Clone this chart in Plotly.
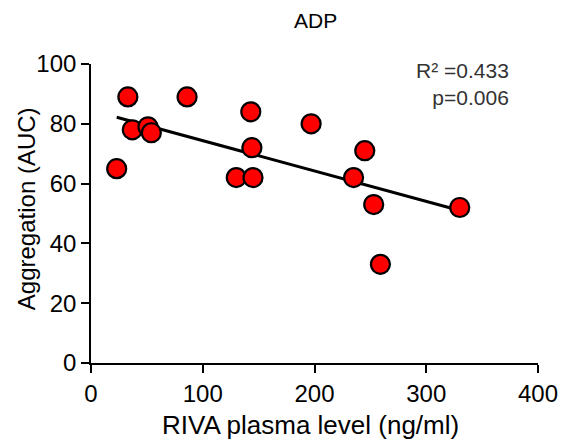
import plotly.graph_objects as go

# RIVA plasma level (ng/ml) vs aggregation (AUC), ADP
riva_level = [23, 33, 37, 51, 54, 86, 130, 143, 144, 145, 197, 235, 245, 253, 259, 330]
aggregation = [65, 89, 78, 79, 77, 89, 62, 84, 72, 62, 80, 62, 71, 53, 33, 52]

# regression line end points
fit_x = [23, 330]
fit_y = [82.2, 51.0]

x_ticks = [0, 100, 200, 300, 400]
y_ticks = [0, 20, 40, 60, 80, 100]

FONT = 'Liberation Sans, Arial'

fig = go.Figure()

fig.add_trace(go.Scatter(
    x=fit_x, y=fit_y, mode='lines',
    line=dict(color='black', width=3),
    hoverinfo='skip', cliponaxis=False,
))

fig.add_trace(go.Scatter(
    x=riva_level, y=aggregation, mode='markers',
    marker=dict(color='#ff0000', size=19, line=dict(color='black', width=2.2)),
    cliponaxis=False,
))

axis_common = dict(
    showgrid=False, zeroline=False, showline=True, automargin=False,
    linecolor='black', linewidth=1.6,
    ticks='outside', ticklen=8, tickwidth=1.6, tickcolor='black',
    tickfont=dict(family=FONT, size=24, color='black'),
)

fig.update_layout(
    width=561, height=443,
    paper_bgcolor='white', plot_bgcolor='white',
    showlegend=False,
    margin=dict(l=91, r=23, t=64, b=80),
    xaxis=dict(range=[0, 400], tickvals=x_ticks, **axis_common),
    yaxis=dict(range=[0, 100], tickvals=y_ticks, **axis_common),
    annotations=[
        dict(text='ADP', xref='paper', yref='paper', x=0.503, y=1.144,
             xanchor='center', yanchor='middle', showarrow=False,
             font=dict(family=FONT, size=21, color='black')),
        dict(text='RIVA plasma level (ng/ml)', xref='paper', yref='paper',
             x=0.492, y=-0.207, xanchor='center', yanchor='middle', showarrow=False,
             font=dict(family=FONT, size=26, color='black')),
        dict(text='Aggregation (AUC)', xref='paper', yref='paper',
             x=-0.145, y=0.515, xanchor='center', yanchor='middle', showarrow=False,
             textangle=-90, font=dict(family=FONT, size=24, color='black')),
        dict(text='R² =0.433<br>p=0.006', xref='paper', yref='paper',
             x=0.94, y=1.022, xanchor='right', yanchor='top', align='right',
             showarrow=False, font=dict(family=FONT, size=21, color='#333333')),
    ],
)

# drop the default page margin so the figure sits at the window's corner
fig.write_html("out.html", config={'displayModeBar': False},
               post_script="document.body.style.margin='0';")
